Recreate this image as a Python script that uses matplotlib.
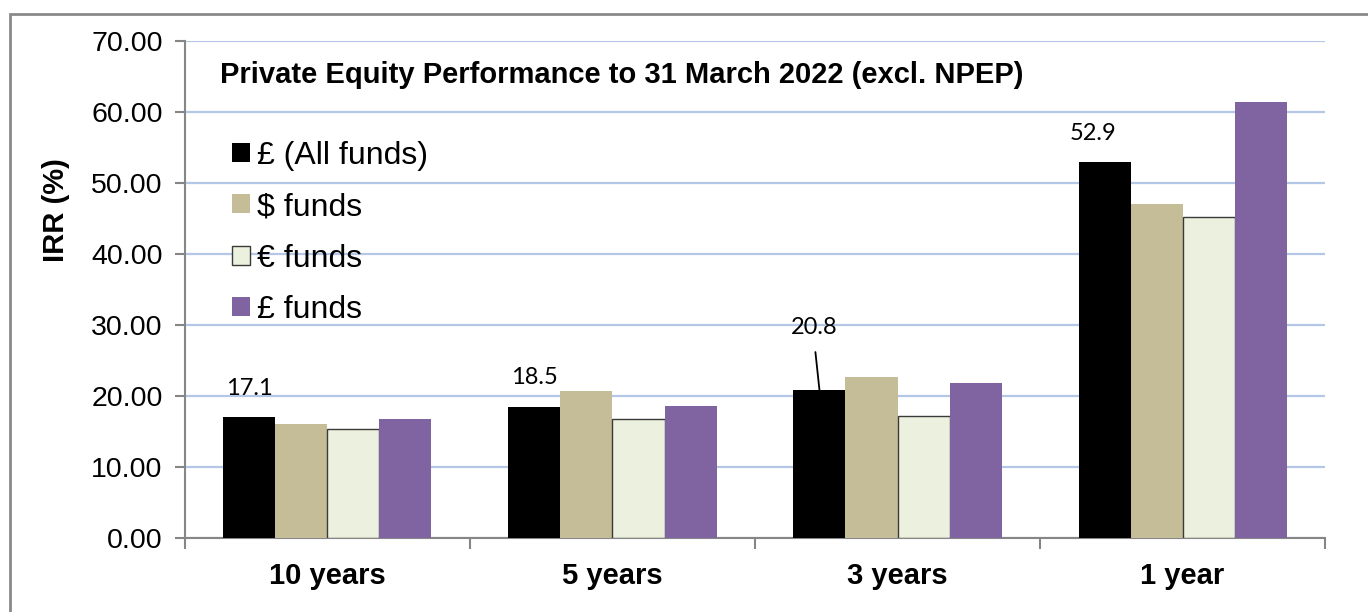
import numpy as np
import matplotlib.pyplot as plt
from matplotlib.patches import Rectangle

# data
periods = ["10 years", "5 years", "3 years", "1 year"]
series_names = ["£ (All funds)", "$ funds", "€ funds", "£ funds"]
all_funds = [17.1, 18.5, 20.8, 52.9]
usd_funds = [16.0, 20.7, 22.7, 47.0]
eur_funds = [15.3, 16.7, 17.2, 45.2]
gbp_funds = [16.8, 18.6, 21.8, 61.4]
yticks = [0, 10, 20, 30, 40, 50, 60, 70]

colors = ["#000000", "#C4BD97", "#EBF1DE", "#8064A2"]
edges = ["none", "none", "#3a3a3a", "none"]
# label offsets (points) for the data labels of the first series
lab_off = [(0, 13), (0, 13.5), (-4, 37.5), (-8, 13)]

plt.rcParams['font.family'] = ['Liberation Sans', 'DejaVu Sans']

fig = plt.figure(figsize=(13.68, 6.12), dpi=100)
ax = fig.add_axes([0.1352, 0.1209, 0.8334, 0.8121])

# outer frame of the chart area
fig.patches.append(Rectangle((10 / 1368, -0.1), 1.2, (612 - 14) / 612 + 0.1,
                             transform=fig.transFigure, fill=False,
                             edgecolor="#8a8a8a", linewidth=2))

x = np.arange(len(periods))
w = 0.1825
data = [all_funds, usd_funds, eur_funds, gbp_funds]
for k, vals in enumerate(data):
    ax.bar(x + (k - 1.5) * w, vals, width=w, color=colors[k],
           edgecolor=edges[k], linewidth=1.0 if edges[k] != "none" else 0,
           label=series_names[k], zorder=3)

# data labels on the first series
lab_font = dict(fontsize=17, family=['Lato', 'DejaVu Sans'], color="black")
for i, v in enumerate(all_funds):
    bx = x[i] - 1.5 * w
    if i == 2:
        # this one sits higher, with a leader line down to the bar
        ax.annotate(f"{v:.1f}", xy=(bx, v), xytext=lab_off[i],
                    textcoords="offset points", ha="center", va="bottom",
                    arrowprops=dict(arrowstyle="-", color="black", lw=1.3,
                                    relpos=(0.5, 0), shrinkA=8, shrinkB=0),
                    **lab_font)
    else:
        ax.annotate(f"{v:.1f}", xy=(bx, v), xytext=lab_off[i],
                    textcoords="offset points", ha="center", va="bottom",
                    **lab_font)

ax.set_xlim(-0.5, len(periods) - 0.5)
ax.set_ylim(0, 70)
ax.set_yticks(yticks)
ax.set_yticklabels([f"{t:.2f}" for t in yticks], fontsize=20.5)
ax.yaxis.grid(True, color="#B4C7E7", linewidth=1.6, zorder=0)
ax.set_axisbelow(True)

ax.set_xticks(x)
ax.set_xticklabels(periods, fontsize=21, fontweight="bold")
ax.set_xticks(np.arange(len(periods) + 1) - 0.5, minor=True)
ax.tick_params(axis="x", which="major", length=0, pad=17)
ax.tick_params(axis="x", which="minor", length=8, width=1.5, color="#868686")
ax.tick_params(axis="y", length=7, width=1.5, color="#868686", pad=9)

for s in ["top", "right"]:
    ax.spines[s].set_visible(False)
for s in ["left", "bottom"]:
    ax.spines[s].set_color("#868686")
    ax.spines[s].set_linewidth(1.5)

ax.set_ylabel("IRR (%)", fontsize=21, fontweight="bold")
ax.yaxis.set_label_coords(-0.101, 0.66)

ax.text(0.031, 0.932, "Private Equity Performance to 31 March 2022 (excl. NPEP)",
        transform=ax.transAxes, fontsize=21, fontweight="bold",
        ha="left", va="center")

ax.legend(loc="upper left", bbox_to_anchor=(0.03, 0.825), frameon=False,
          fontsize=23, handlelength=0.55, handleheight=0.55,
          handletextpad=0.25, labelspacing=0.67, borderaxespad=0)

fig.savefig("out.png", dpi=100)
